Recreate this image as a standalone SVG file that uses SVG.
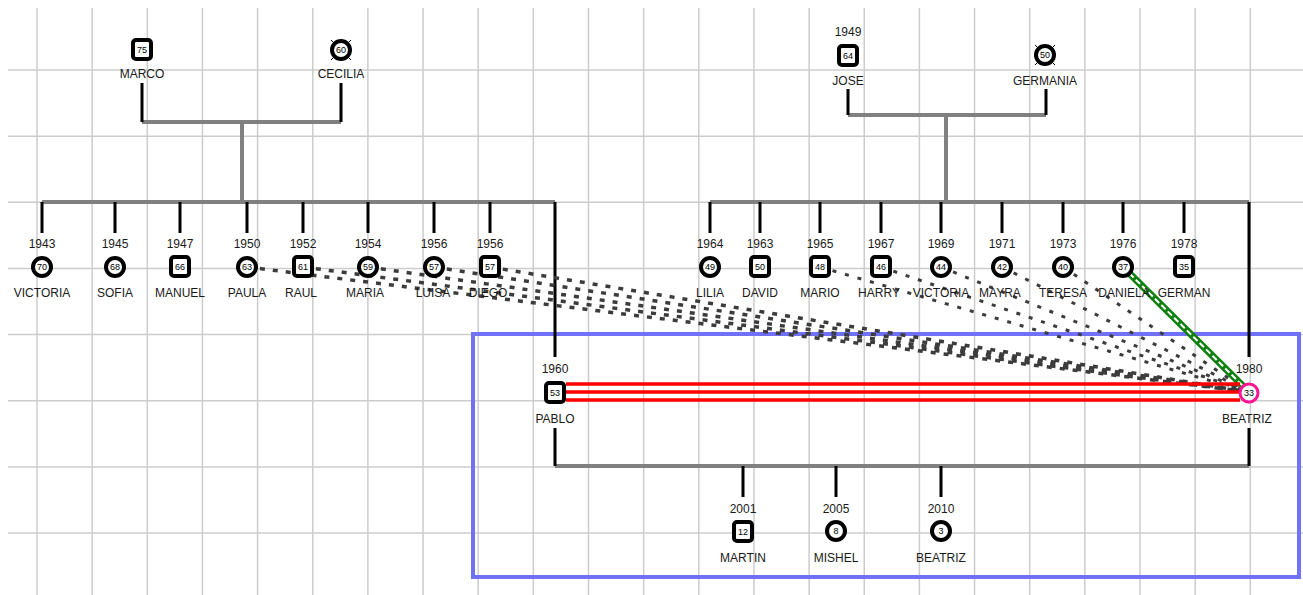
<svg xmlns="http://www.w3.org/2000/svg" width="1303" height="595" viewBox="0 0 1303 595">
<style>
.grid line{stroke:#cccccc;stroke-width:1.5}
.t{font-family:"Liberation Sans",Arial,sans-serif;font-size:12px;fill:#1a1a1a;text-anchor:middle}
.n{font-family:"Liberation Sans",Arial,sans-serif;font-size:9px;fill:#000;text-anchor:middle}
.sq{fill:#fff;stroke:#000;stroke-width:4}
.ci{fill:#fff;stroke:#000;stroke-width:4}
.gray{stroke:#808080;stroke-width:4;fill:none}
.blk{stroke:#000;stroke-width:3;fill:none}
.dl{stroke:#3c3c3c;stroke-width:3.5;stroke-dasharray:5 8;fill:none}
.dr{stroke:#3c3c3c;stroke-width:3;stroke-dasharray:4 9;fill:none}
.red{stroke:#ff0000;stroke-width:3.5;fill:none}
</style>
<rect width="1303" height="595" fill="#fff"/>
<g class="grid">
<line x1="37" y1="8" x2="37" y2="595"/><line x1="92.15" y1="8" x2="92.15" y2="595"/><line x1="147.3" y1="8" x2="147.3" y2="595"/><line x1="202.45" y1="8" x2="202.45" y2="595"/><line x1="257.6" y1="8" x2="257.6" y2="595"/><line x1="312.75" y1="8" x2="312.75" y2="595"/><line x1="367.9" y1="8" x2="367.9" y2="595"/><line x1="423.05" y1="8" x2="423.05" y2="595"/><line x1="478.2" y1="8" x2="478.2" y2="595"/><line x1="533.35" y1="8" x2="533.35" y2="595"/><line x1="588.5" y1="8" x2="588.5" y2="595"/><line x1="643.65" y1="8" x2="643.65" y2="595"/><line x1="698.8" y1="8" x2="698.8" y2="595"/><line x1="753.95" y1="8" x2="753.95" y2="595"/><line x1="809.1" y1="8" x2="809.1" y2="595"/><line x1="864.25" y1="8" x2="864.25" y2="595"/><line x1="919.4" y1="8" x2="919.4" y2="595"/><line x1="974.55" y1="8" x2="974.55" y2="595"/><line x1="1029.7" y1="8" x2="1029.7" y2="595"/><line x1="1084.85" y1="8" x2="1084.85" y2="595"/><line x1="1140" y1="8" x2="1140" y2="595"/><line x1="1195.15" y1="8" x2="1195.15" y2="595"/><line x1="1250.3" y1="8" x2="1250.3" y2="595"/>
<line x1="8" y1="70" x2="1303" y2="70"/><line x1="8" y1="136.15" x2="1303" y2="136.15"/><line x1="8" y1="202.3" x2="1303" y2="202.3"/><line x1="8" y1="268.45" x2="1303" y2="268.45"/><line x1="8" y1="334.6" x2="1303" y2="334.6"/><line x1="8" y1="400.75" x2="1303" y2="400.75"/><line x1="8" y1="466.9" x2="1303" y2="466.9"/><line x1="8" y1="533.05" x2="1303" y2="533.05"/>
</g>
<rect id="household" x="473" y="334" width="826" height="243" fill="none" stroke="#7070f8" stroke-width="4"/>
<g id="connectors">
<path class="gray" d="M142 122H341M242 122V202M848 115H1046M946 115V202M42 202H555M710 202H1249M555 466H1249"/>
<path class="blk" d="M142 83V122M341 83V122M848 89V115M1046 89V115M42 202V233M115 202V233M180 202V233M247 202V233M303 202V233M368 202V233M434 202V233M490 202V233M555 202V357M710 202V233M760 202V233M820 202V233M881 202V233M941 202V233M1002 202V233M1063 202V233M1123 202V233M1184 202V233M1249 202V357M555 428V466M1249 428V466M743 466V497M836 466V497M941 466V497"/>
<path class="dl" d="M247 267L1249 392M303 267L1249 392M368 267L1249 392M434 267L1249 392M490 267L1249 392"/>
<path class="dr" d="M820 267L1249 392M881 267L1249 392M941 267L1249 392M1002 267L1249 392M1063 267L1249 392"/>
<line x1="1123" y1="267" x2="1249" y2="392" stroke="#108010" stroke-width="7"/>
<line x1="1123" y1="267" x2="1249" y2="392" stroke="#fff" stroke-width="2" stroke-dasharray="6 3"/>
<path class="red" d="M566 384H1240M566 392H1240M566 400H1240"/>
</g>
<g id="marco"><rect class="sq" x="133" y="40" width="18" height="19" rx="3"/><text class="n" x="142" y="52.5">75</text><text class="t" x="142" y="78">MARCO</text></g>
<g id="cecilia"><path d="M331 40L351 60M351 40L331 60" stroke="#000" stroke-width="1"/><circle class="ci" cx="341" cy="50" r="9"/><text class="n" x="341" y="53">60</text><text class="t" x="341" y="78">CECILIA</text></g>
<g id="jose"><text class="t" x="848" y="36">1949</text><rect class="sq" x="839" y="46" width="18" height="19" rx="3"/><text class="n" x="848" y="58.5">64</text><text class="t" x="848" y="84.5">JOSE</text></g>
<g id="germania"><path d="M1035 45L1055 65M1055 45L1035 65" stroke="#000" stroke-width="1"/><circle class="ci" cx="1045" cy="55" r="9"/><text class="n" x="1045" y="58">50</text><text class="t" x="1045" y="84.5">GERMANIA</text></g>
<g id="victoria1"><text class="t" x="42" y="247.5">1943</text><circle class="ci" cx="42" cy="267" r="9"/><text class="n" x="42" y="270">70</text><text class="t" x="42" y="296.5">VICTORIA</text></g>
<g id="sofia"><text class="t" x="115" y="247.5">1945</text><circle class="ci" cx="115" cy="267" r="9"/><text class="n" x="115" y="270">68</text><text class="t" x="115" y="296.5">SOFIA</text></g>
<g id="manuel"><text class="t" x="180" y="247.5">1947</text><rect class="sq" x="171" y="257" width="18" height="19" rx="3"/><text class="n" x="180" y="269.5">66</text><text class="t" x="180" y="296.5">MANUEL</text></g>
<g id="paula"><text class="t" x="247" y="247.5">1950</text><circle class="ci" cx="247" cy="267" r="9"/><text class="n" x="247" y="270">63</text><text class="t" x="247" y="296.5">PAULA</text></g>
<g id="raul"><text class="t" x="303" y="247.5">1952</text><rect class="sq" x="294" y="257" width="18" height="19" rx="3"/><text class="n" x="303" y="269.5">61</text><text class="t" x="301" y="296.5">RAUL</text></g>
<g id="maria"><text class="t" x="368" y="247.5">1954</text><circle class="ci" cx="368" cy="267" r="9"/><text class="n" x="368" y="270">59</text><text class="t" x="365" y="296.5">MARIA</text></g>
<g id="luisa"><text class="t" x="434" y="247.5">1956</text><circle class="ci" cx="434" cy="267" r="9"/><text class="n" x="434" y="270">57</text><text class="t" x="433" y="296.5">LUISA</text></g>
<g id="diego"><text class="t" x="490" y="247.5">1956</text><rect class="sq" x="481" y="257" width="18" height="19" rx="3"/><text class="n" x="490" y="269.5">57</text><text class="t" x="488" y="296.5">DIEGO</text></g>
<g id="lilia"><text class="t" x="710" y="247.5">1964</text><circle class="ci" cx="710" cy="267" r="9"/><text class="n" x="710" y="270">49</text><text class="t" x="710" y="296.5">LILIA</text></g>
<g id="david"><text class="t" x="760" y="247.5">1963</text><rect class="sq" x="751" y="257" width="18" height="19" rx="3"/><text class="n" x="760" y="269.5">50</text><text class="t" x="760" y="296.5">DAVID</text></g>
<g id="mario"><text class="t" x="820" y="247.5">1965</text><rect class="sq" x="811" y="257" width="18" height="19" rx="3"/><text class="n" x="820" y="269.5">48</text><text class="t" x="820" y="296.5">MARIO</text></g>
<g id="harry"><text class="t" x="881" y="247.5">1967</text><rect class="sq" x="872" y="257" width="18" height="19" rx="3"/><text class="n" x="881" y="269.5">46</text><text class="t" x="879" y="296.5">HARRY</text></g>
<g id="victoria2"><text class="t" x="941" y="247.5">1969</text><circle class="ci" cx="941" cy="267" r="9"/><text class="n" x="941" y="270">44</text><text class="t" x="941" y="296.5">VICTORIA</text></g>
<g id="mayra"><text class="t" x="1002" y="247.5">1971</text><circle class="ci" cx="1002" cy="267" r="9"/><text class="n" x="1002" y="270">42</text><text class="t" x="1000" y="296.5">MAYRA</text></g>
<g id="teresa"><text class="t" x="1063" y="247.5">1973</text><circle class="ci" cx="1063" cy="267" r="9"/><text class="n" x="1063" y="270">40</text><text class="t" x="1063" y="296.5">TERESA</text></g>
<g id="daniela"><text class="t" x="1123" y="247.5">1976</text><circle class="ci" cx="1123" cy="267" r="9"/><text class="n" x="1123" y="270">37</text><text class="t" x="1124" y="296.5">DANIELA</text></g>
<g id="german"><text class="t" x="1184" y="247.5">1978</text><rect class="sq" x="1175" y="257" width="18" height="19" rx="3"/><text class="n" x="1184" y="269.5">35</text><text class="t" x="1184" y="296.5">GERMAN</text></g>
<g id="pablo"><text class="t" x="555" y="372.5">1960</text><rect class="sq" x="546" y="383" width="18" height="19" rx="3"/><text class="n" x="555" y="395.5">53</text><text class="t" x="555" y="422.5">PABLO</text></g>
<g id="beatriz"><text class="t" x="1249" y="372.5">1980</text><circle cx="1249" cy="393" r="9" fill="#fff" stroke="#ff1493" stroke-width="3"/><text class="n" x="1249" y="396">33</text><text class="t" x="1247" y="422.5">BEATRIZ</text></g>
<g id="martin"><text class="t" x="743" y="512.5">2001</text><rect class="sq" x="734" y="522" width="18" height="19" rx="3"/><text class="n" x="743" y="534.5">12</text><text class="t" x="743" y="561.5">MARTIN</text></g>
<g id="mishel"><text class="t" x="836" y="512.5">2005</text><circle class="ci" cx="836" cy="531" r="9"/><text class="n" x="836" y="534">8</text><text class="t" x="836" y="561.5">MISHEL</text></g>
<g id="beatriz2"><text class="t" x="941" y="512.5">2010</text><circle class="ci" cx="941" cy="531" r="9"/><text class="n" x="941" y="534">3</text><text class="t" x="941" y="561.5">BEATRIZ</text></g>
</svg>
